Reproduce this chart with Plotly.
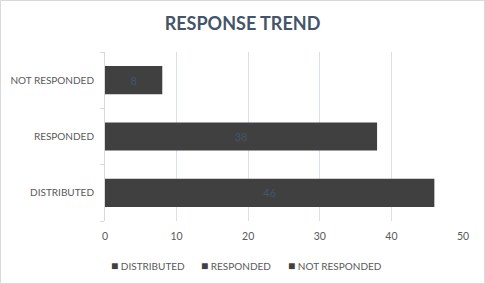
import plotly.graph_objects as go

categories = ["DISTRIBUTED", "RESPONDED", "NOT RESPONDED"]
values = [46, 38, 8]
x_ticks = [0, 10, 20, 30, 40, 50]
legend_labels = ["DISTRIBUTED", "RESPONDED", "NOT RESPONDED"]

W, H = 485, 284
L, R, T, B = 105, 22, 52, 63
pw, ph = W - L - R, H - T - B
FONT = "Lato"
BAR = "#404040"

fig = go.Figure()
fig.add_trace(go.Bar(
    x=values, y=categories, orientation="h", width=0.5,
    marker=dict(color=BAR, line=dict(width=0)),
    text=[str(v) for v in values], textposition="inside", insidetextanchor="middle",
    textfont=dict(color="#44546a", size=11, family=FONT),
    showlegend=False,
))

# legend as text entries
leg_x = [109, 199, 286]
annotations = []
for lx, lab in zip(leg_x, legend_labels):
    annotations.append(dict(
        text=f"<span style='color:{BAR};font-size:12px'>■</span> {lab}", xref="paper", yref="paper",
        x=(lx - L) / pw, y=-(265 - (T + ph)) / ph, xanchor="left", yanchor="middle",
        showarrow=False, font=dict(size=10, color="#595959", family=FONT)))

fig.update_layout(
    width=W, height=H,
    margin=dict(l=L, r=R, t=T, b=B, autoexpand=False),
    paper_bgcolor="white", plot_bgcolor="white",
    title=dict(text="<b>RESPONSE TREND</b>", x=0.5, xanchor="center", xref="container",
               y=1 - 24 / H, yanchor="middle",
               font=dict(size=18, color="#44546a", family=FONT)),
    xaxis=dict(range=[0, 50], tickvals=x_ticks, showgrid=True, gridcolor="#dbe1ea", gridwidth=1,
               zeroline=False, showline=False, ticklabelstandoff=7,
               tickfont=dict(size=10.5, color="#595959", family=FONT), ticklen=0),
    yaxis=dict(categoryorder="array", categoryarray=categories, range=[-0.5, 2.5],
               showline=True, linecolor="#d9d9d9", ticks="outside", tickson="boundaries",
               ticklen=4, tickcolor="#d9d9d9", showgrid=False, ticklabelstandoff=8,
               tickfont=dict(size=10, color="#595959", family=FONT)),
    annotations=annotations,
    shapes=[dict(type="rect", xref="paper", yref="paper",
                 x0=(0.5 - L) / pw, x1=(W - 0.5 - L) / pw,
                 y0=-(H - 0.5 - T - ph) / ph, y1=1 + (T - 0.5) / ph,
                 line=dict(color="#d9d9d9", width=1), fillcolor="rgba(0,0,0,0)")],
)

fig.write_html("out.html")
